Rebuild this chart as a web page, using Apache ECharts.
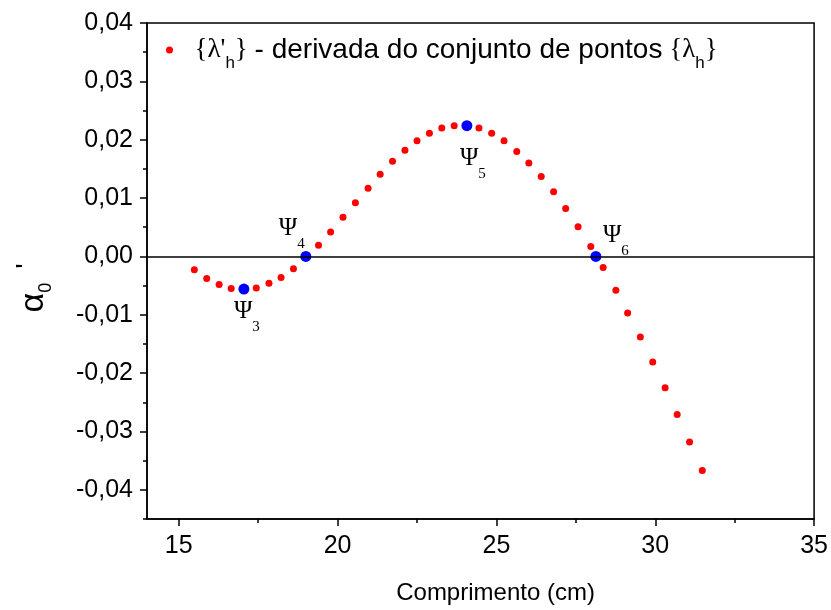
<!DOCTYPE html>
<html>
<head>
<meta charset="utf-8">
<script src="https://cdn.jsdelivr.net/npm/echarts@6/dist/echarts.min.js"></script>
<style>
  html, body { margin: 0; padding: 0; background: #fff; }
  #chart { width: 831px; height: 610px; }
</style>
</head>
<body>
<div id="chart"></div>
<script>
// pontos da derivada {λ'h}
var redX = [15.49, 15.88, 16.27, 16.65, 17.44, 17.84, 18.22, 18.61, 19.40, 19.78,
            20.17, 20.56, 20.96, 21.34, 21.73, 22.12, 22.50, 22.89, 23.28, 23.67,
            24.45, 24.85, 25.24, 25.64, 26.02, 26.41, 26.80, 27.18, 27.57, 27.97,
            28.36, 28.76, 29.13, 29.53, 29.92, 30.31, 30.69, 31.08, 31.48];
var redY = [-0.0023, -0.0038, -0.0048, -0.0055, -0.0054, -0.0046, -0.0036, -0.0021, 0.0019, 0.0042,
            0.0067, 0.0092, 0.0117, 0.0141, 0.0163, 0.0182, 0.0198, 0.0211, 0.0220, 0.0224,
            0.0220, 0.0211, 0.0198, 0.0180, 0.0160, 0.0137, 0.0111, 0.0082, 0.0051, 0.0017,
            -0.0019, -0.0058, -0.0097, -0.0138, -0.0181, -0.0225, -0.0271, -0.0318, -0.0367];

// pontos Psi (azul)
var blueX = [17.05, 19.00, 24.07, 28.13];
var blueY = [-0.0056, 0, 0.0224, 0];
var psiIdx = ['3', '4', '5', '6'];

// ticks
var xTicks = [15, 20, 25, 30, 35];
var xMinor = [17.5, 22.5, 27.5, 32.5];
var yTicks = [-0.04, -0.03, -0.02, -0.01, 0, 0.01, 0.02, 0.03, 0.04];
var yMinor = [-0.045, -0.035, -0.025, -0.015, -0.005, 0.005, 0.015, 0.025, 0.035];

var psiOffsets = [[3, 22], [-14, -28], [6, 33], [20, -21]];

var chart = echarts.init(document.getElementById('chart'));

var redData = [];
for (var i = 0; i < redX.length; i++) {
    redData.push([redX[i], redY[i]]);
}
var blueData = [];
for (var j = 0; j < blueX.length; j++) {
    blueData.push({
        value: [blueX[j], blueY[j]],
        label: {
            show: true,
            position: 'inside',
            offset: psiOffsets[j],
            formatter: '{p|Ψ}{s|' + psiIdx[j] + '}'
        }
    });
}

var sans = 'Liberation Sans, Arial, sans-serif';
var serif = 'Liberation Serif, Times New Roman, serif';

var tickStyle = { color: '#000', width: 1.5 };

var option = {
    animation: false,
    backgroundColor: '#fff',
    grid: {
        left: 147, right: 15, top: 23, bottom: 90,
        show: true, borderColor: '#000', borderWidth: 1.5
    },
    legend: {
        left: 161, top: 23,
        itemWidth: 40, itemHeight: 7,
        icon: 'circle',
        data: ['deriv'],
        formatter: "{{l|λ'}{h|h}} {t|- derivada do conjunto de pontos} {{l|λ}{h|h}}",
        textStyle: {
            fontFamily: serif, fontSize: 27, color: '#000', lineHeight: 44,
            rich: {
                l: { fontFamily: serif, fontSize: 27, lineHeight: 44, color: '#000' },
                h: { fontFamily: sans, fontSize: 17, lineHeight: 17, verticalAlign: 'bottom', color: '#000' },
                t: { fontFamily: sans, fontSize: 28, lineHeight: 44, color: '#000' }
            }
        }
    },
    xAxis: [{
        type: 'value', min: 14, max: 35,
        name: 'Comprimento (cm)', nameLocation: 'middle', nameGap: 62,
        nameTextStyle: { fontFamily: sans, fontSize: 24, color: '#000', padding: [0, 0, 0, 30] },
        axisLine: { show: true, onZero: false, lineStyle: tickStyle },
        axisTick: { show: true, inside: false, length: 7, lineStyle: tickStyle, customValues: xTicks },
        axisLabel: { fontFamily: sans, fontSize: 25, color: '#000', margin: 15, customValues: xTicks },
        splitLine: { show: false }
    }, {
        type: 'value', min: 14, max: 35, position: 'bottom',
        axisLine: { show: false, onZero: false },
        axisTick: { show: true, inside: false, length: 4, lineStyle: tickStyle, customValues: xMinor },
        axisLabel: { show: false },
        splitLine: { show: false }
    }],
    yAxis: [{
        type: 'value', min: -0.045, max: 0.04,
        name: "{a|α}{s|0}{p|'}", nameLocation: 'middle', nameGap: 92, nameRotate: 90,
        nameTextStyle: {
            rich: {
                a: { fontFamily: sans, fontSize: 34, lineHeight: 42, color: '#000' },
                s: { fontFamily: sans, fontSize: 18, lineHeight: 18, verticalAlign: 'bottom', color: '#000' },
                p: { fontFamily: sans, fontSize: 28, lineHeight: 28, verticalAlign: 'top', color: '#000', padding: [0, 34, 0, 14] }
            }
        },
        axisLine: { show: true, onZero: false, lineStyle: tickStyle },
        axisTick: { show: true, inside: false, length: 7, lineStyle: tickStyle, customValues: yTicks },
        axisLabel: {
            fontFamily: sans, fontSize: 25, color: '#000', margin: 14, customValues: yTicks,
            formatter: function (v) { return v.toFixed(2).replace('.', ','); }
        },
        splitLine: { show: false }
    }, {
        type: 'value', min: -0.045, max: 0.04, position: 'left',
        axisLine: { show: false, onZero: false },
        axisTick: { show: true, inside: false, length: 4, lineStyle: tickStyle, customValues: yMinor },
        axisLabel: { show: false },
        splitLine: { show: false }
    }],
    series: [{
        name: 'deriv',
        type: 'scatter',
        symbol: 'circle',
        symbolSize: 7,
        itemStyle: { color: '#ff0000', opacity: 1 },
        data: redData,
        markLine: {
            silent: true,
            symbol: ['none', 'none'],
            label: { show: false },
            lineStyle: { color: '#000', width: 1.5, type: 'solid' },
            data: [{ yAxis: 0 }]
        },
        z: 3
    }, {
        name: 'psi',
        type: 'scatter',
        symbol: 'circle',
        symbolSize: 11,
        itemStyle: { color: '#0000ff', opacity: 1 },
        label: {
            color: '#000',
            rich: {
                p: { fontFamily: serif, fontSize: 25, lineHeight: 46, color: '#000' },
                s: { fontFamily: serif, fontSize: 15, lineHeight: 16, verticalAlign: 'bottom', color: '#000' }
            }
        },
        data: blueData,
        z: 4
    }]
};

chart.setOption(option);
</script>
</body>
</html>
